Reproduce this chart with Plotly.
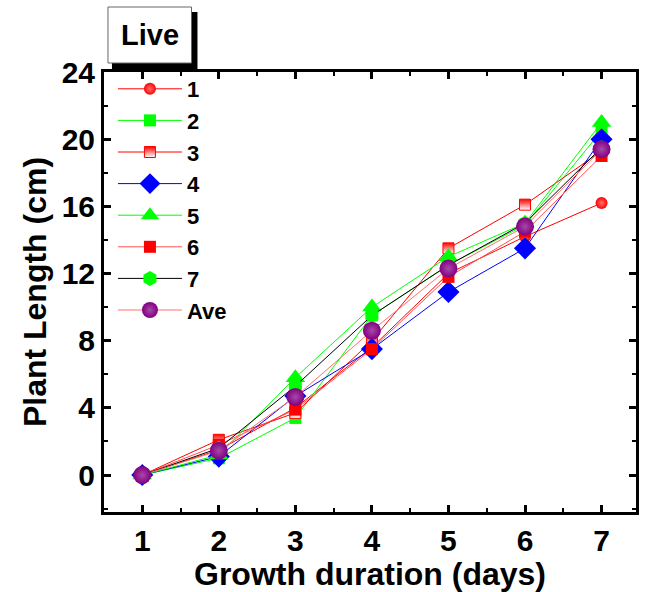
import plotly.graph_objects as go

# Growth duration (days)
days = [1, 2, 3, 4, 5, 6, 7]

# Plant length (cm) for each plant and the average
plant_1 = [0, 1.5, 4.0, 7.6, 12.0, 14.2, 16.2]
plant_2 = [0, 1.0, 3.4, 9.5, 12.5, 14.9, 20.5]
plant_3 = [0, 2.1, 3.7, 8.0, 13.5, 16.1, 19.3]
plant_4 = [0, 1.1, 4.7, 7.5, 10.9, 13.5, 20.0]
plant_5 = [0, 1.2, 5.8, 10.0, 13.0, 15.0, 21.0]
plant_6 = [0, 1.8, 3.9, 7.5, 11.8, 14.5, 19.0]
plant_7 = [0, 1.6, 5.3, 9.5, 12.5, 15.0, 19.5]
average = [0, 1.45, 4.65, 8.6, 12.3, 14.8, 19.4]

y_ticks = [0, 4, 8, 12, 16, 20, 24]

FONT = "Arial, Liberation Sans, sans-serif"

series = [
    ("1", plant_1, "#FF0000", dict(symbol="circle", size=12, color="#FF0000",
                                   gradient=dict(type="radial", color="#FF7070"))),
    ("2", plant_2, "#00FF00", dict(symbol="square", size=12, color="#00FF00")),
    ("3", plant_3, "#FF0000", dict(symbol="square", size=11, color="#FF0000",
                                   gradient=dict(type="vertical", color="#FFFFFF"),
                                   line=dict(color="#FF0000", width=1))),
    ("4", plant_4, "#0000FF", dict(symbol="diamond", size=17, color="#0000FF")),
    ("5", plant_5, "#00FF00", dict(symbol="triangle-up", size=17, color="#00FF00")),
    ("6", plant_6, "#FF5050", dict(symbol="square", size=12, color="#FF0000")),
    ("7", plant_7, "#000000", dict(symbol="hexagon", size=15, color="#00FF00")),
    ("Ave", average, "#FF7070", dict(symbol="circle", size=18, color="#800080",
                                     gradient=dict(type="radial", color="#A848A8"))),
]

fig = go.Figure()
for name, vals, line_color, marker in series:
    fig.add_trace(go.Scatter(
        x=days, y=vals, name=name, mode="lines+markers",
        line=dict(color=line_color, width=1),
        marker=marker, legendgroup=name,
    ))

axis_common = dict(
    showline=True, linecolor="black", linewidth=3, mirror="ticks",
    ticks="inside", ticklen=7, tickwidth=3, tickcolor="black",
    showgrid=False, zeroline=False,
    tickfont=dict(family=FONT, size=30, color="black", weight="bold"),
    title_font=dict(family=FONT, size=32, color="black", weight="bold"),
)

fig.update_xaxes(
    range=[0.5, 7.45], tickvals=days,
    minor=dict(ticks="inside", ticklen=4, tickwidth=2, tickcolor="black", dtick=0.5, tick0=0.5),
    title_text="Growth duration (days)", title_standoff=2,
    **axis_common,
)
fig.update_yaxes(
    range=[-2.2, 24], tickvals=y_ticks,
    minor=dict(ticks="inside", ticklen=4, tickwidth=2, tickcolor="black", dtick=2, tick0=0),
    title_text="Plant Length (cm)", title_standoff=6,
    **axis_common,
)

# "Live" panel label: white box with a black drop shadow above the plot frame
L, R, T, B = 104, 10, 72, 80
W, H = 649 - L - R, 592 - T - B


def px(xp):
    return (xp - L) / W


def py(yp):
    return (592 - B - yp) / H


fig.add_shape(type="rect", xref="paper", yref="paper",
              x0=px(112), x1=px(198), y0=py(72), y1=py(12),
              fillcolor="black", line=dict(width=0), layer="above")
fig.add_shape(type="rect", xref="paper", yref="paper",
              x0=px(108), x1=px(192), y0=py(63), y1=py(7),
              fillcolor="white", line=dict(color="#666666", width=1), layer="above")
fig.add_annotation(xref="paper", yref="paper", x=px(150), y=py(35),
                   text="Live", showarrow=False, xanchor="center", yanchor="middle",
                   font=dict(family=FONT, size=29, color="black", weight="bold"))

fig.update_layout(
    width=649, height=592,
    margin=dict(l=L, r=R, t=T, b=B),
    paper_bgcolor="white", plot_bgcolor="white",
    legend=dict(
        x=px(113), y=py(68), xanchor="left", yanchor="top",
        bgcolor="rgba(0,0,0,0)", borderwidth=0,
        font=dict(family=FONT, size=22, color="black", weight="bold"),
        itemwidth=64, tracegroupgap=0,
    ),
    showlegend=True,
)

fig.write_html("out.html")
